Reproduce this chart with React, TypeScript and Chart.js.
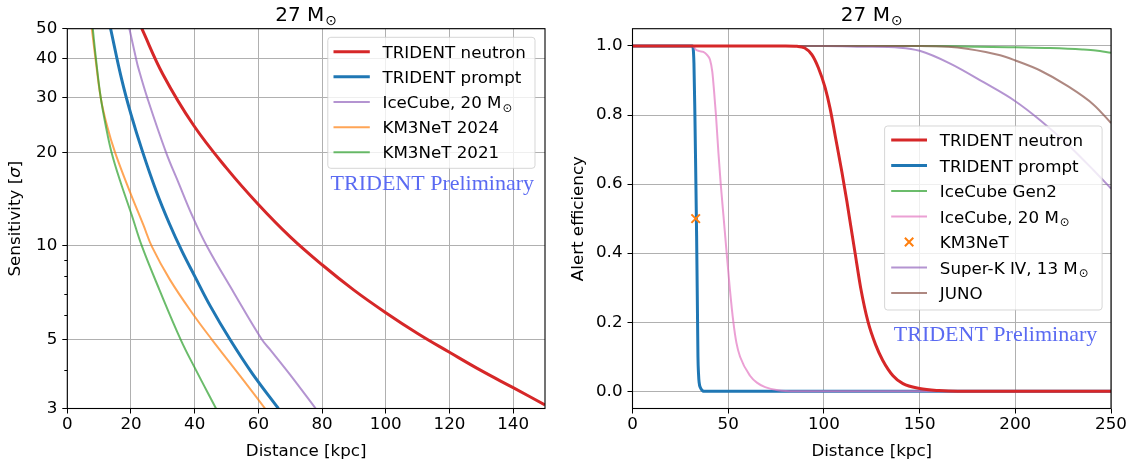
import React, { useEffect, useRef } from 'react';
import { Chart, registerables } from 'chart.js';

Chart.register(...registerables);

const FONT = 'DejaVu Sans';
const FS = 16.7;
const TITLE_FS = 20;

// ---------------- Left panel: sensitivity vs distance ----------------
const panelTitle = '27 M⊙';
const sensXTicks = [0, 20, 40, 60, 80, 100, 120, 140];
const sensYTicks = [3, 5, 10, 20, 30, 40, 50];
const sensMinorTicks = [4, 6, 7, 8, 9];

const neutronSensDist = [23.4, 30, 39.6, 50, 60, 70, 80, 90, 100, 110, 120, 130, 140, 150];
const neutronSensSigma = [50, 35.7, 24.5, 17.8, 13.6, 10.7, 8.7, 7.21, 6.1, 5.23, 4.55, 3.97, 3.5, 3.08];

const promptSensDist = [13.6, 17, 20, 23.7, 28, 32, 36, 40, 45, 51.1, 58, 66.3];
const promptSensSigma = [50, 34.6, 26.5, 20, 14.94, 11.83, 9.62, 8, 6.38, 5, 3.9, 3];

const icecubeSensDist = [19.5, 21.6, 22.3, 25.1, 31, 35, 39.1, 43.8, 52.2, 61.1, 64, 70, 78];
const icecubeSensSigma = [50, 40, 37.4, 30, 20, 15.9, 12.6, 10, 7.1, 5, 4.6, 3.85, 3];

const km24SensDist = [7.7, 8.86, 10.49, 12.5, 14.99, 19.7, 23.88, 26.61, 32.26, 40, 45.4, 54.26, 62.1];
const km24SensSigma = [50, 40, 30, 24.3, 20, 14.9, 11.69, 9.93, 7.78, 5.93, 5, 3.82, 3];

const km21SensDist = [8, 9, 10.5, 12.2, 13.9, 16.5, 20.2, 23.4, 29, 35.6, 40, 46.7];
const km21SensSigma = [50, 40, 30, 24, 20, 16.3, 12.6, 10, 7.2, 5, 4.06, 3];

// ---------------- Right panel: alert efficiency vs distance ----------------
const effXTicks = [0, 50, 100, 150, 200, 250];
const effYTicks = [0, 0.2, 0.4, 0.6, 0.8, 1.0];

const neutronEffDist = [0, 80, 86, 90, 93.7, 97.1, 100.6, 103.2, 105.9, 109.4, 112, 114, 116.3, 119.2, 123.1, 127, 130.7, 136.1, 141.3, 150, 160, 170, 250];
const neutronEff = [1, 1, 0.999, 0.994, 0.975, 0.937, 0.88, 0.82, 0.74, 0.635, 0.55, 0.48, 0.4, 0.3, 0.2, 0.135, 0.09, 0.045, 0.022, 0.008, 0.002, 0, 0];

const promptEffDist = [0, 31.3, 32.1, 32.6, 33.0, 33.5, 33.8, 34.0, 34.2, 34.5, 34.8, 35.5, 36.5, 37, 250];
const promptEff = [1, 1, 0.95, 0.8, 0.65, 0.45, 0.3, 0.2, 0.1, 0.05, 0.026, 0.01, 0.002, 0, 0];

const gen2EffDist = [0, 150, 180, 200, 218, 235, 242, 250];
const gen2Eff = [1, 1, 0.998, 0.996, 0.994, 0.99, 0.987, 0.98];

const icecubeEffDist = [0, 31.5, 33, 35, 37, 38.8, 40.5, 41.7, 42.6, 43.6, 44.9, 46.1, 47.5, 49.2, 50.8, 52.7, 54.3, 56.2, 61.4, 65, 69.3, 76, 85, 250];
const icecubeEff = [1, 1, 0.99, 0.985, 0.983, 0.975, 0.96, 0.925, 0.87, 0.8, 0.69, 0.6, 0.51, 0.4, 0.3, 0.2, 0.14, 0.1, 0.045, 0.025, 0.012, 0.003, 0, 0];

const km3netEffDist = [33];
const km3netEff = [0.5];

const superKEffDist = [0, 100, 120, 139.8, 150, 166, 183.4, 200, 213, 227, 240.9, 250];
const superKEff = [1, 1, 0.998, 0.995, 0.986, 0.949, 0.895, 0.84, 0.785, 0.717, 0.64, 0.587];

const junoEffDist = [0, 150, 165, 174.7, 192.1, 200, 213, 227, 240.9, 250];
const junoEff = [1, 1, 0.998, 0.992, 0.973, 0.958, 0.929, 0.885, 0.83, 0.777];

// ---------------- styles ----------------
const RED = '#d62728';
const BLUE = '#1f77b4';
const PURPLE = 'rgba(148,103,189,0.7)';
const ORANGE_A = 'rgba(255,127,14,0.7)';
const GREEN_A = 'rgba(44,160,44,0.7)';
const PINK_A = 'rgba(227,119,194,0.7)';
const BROWN_A = 'rgba(140,86,75,0.7)';
const ORANGE = '#ff7f0e';
const WATERMARK = '#5a6af2';

function pts(xs: number[], ys: number[]) {
  return xs.map((x, i) => ({ x, y: ys[i] }));
}

function lineDs(label: string, xs: number[], ys: number[], color: string, width: number, order: number, smooth: 'bezier' | 'monotone') {
  return {
    label,
    data: pts(xs, ys),
    borderColor: color,
    backgroundColor: color,
    borderWidth: width,
    pointRadius: 0,
    fill: false,
    tension: smooth === 'bezier' ? 0.4 : 0,
    cubicInterpolationMode: smooth === 'monotone' ? 'monotone' : 'default',
    borderJoinStyle: 'round',
    borderCapStyle: 'butt',
    clip: 0,
    order,
  };
}

function drawRich(ctx: CanvasRenderingContext2D, text: string, x: number, y: number, size: number, align: 'left' | 'center') {
  const idx = text.indexOf('⊙');
  const main = idx >= 0 ? text.slice(0, idx) : text;
  const hasSun = idx >= 0;
  const subSize = size * 0.7;
  ctx.font = `${size}px "${FONT}"`;
  const mw = ctx.measureText(main).width;
  let sw = 0;
  if (hasSun) {
    ctx.font = `${subSize}px "${FONT}"`;
    sw = ctx.measureText('⊙').width + 1;
  }
  const x0 = align === 'center' ? x - (mw + sw) / 2 : x;
  ctx.textAlign = 'left';
  ctx.textBaseline = 'alphabetic';
  ctx.fillStyle = '#000';
  ctx.font = `${size}px "${FONT}"`;
  ctx.fillText(main, x0, y);
  if (hasSun) {
    ctx.font = `${subSize}px "${FONT}"`;
    ctx.fillText('⊙', x0 + mw + 1, y + size * 0.22);
  }
}

type LegendItem = { label: string; color: string; width: number; marker?: boolean };
type PanelOpts = {
  minorTicks?: number[];
  yLabelSigma?: { x: number };
  legend: { x: number; y: number; w: number; h: number; row0: number; step: number; sx: number; slen: number; tx: number; items: LegendItem[] };
  mark: { x: number; y: number };
};

function panelPlugin(o: PanelOpts) {
  return {
    id: 'panelDecor',
    afterDatasetsDraw(chart: any) {
      const ctx: CanvasRenderingContext2D = chart.ctx;
      const a = chart.chartArea;
      ctx.save();
      if (o.minorTicks) {
        const ys = chart.scales.y;
        ctx.strokeStyle = '#000';
        ctx.lineWidth = 1;
        for (const v of o.minorTicks) {
          const p = Math.round(ys.getPixelForValue(v)) + 0.5;
          ctx.beginPath();
          ctx.moveTo(a.left - 3, p);
          ctx.lineTo(a.left, p);
          ctx.stroke();
        }
      }
      if (o.yLabelSigma) {
        const parts: [string, string][] = [['Sensitivity [', 'normal'], ['σ', 'italic'], [']', 'normal']];
        const widths = parts.map(([t, st]) => {
          ctx.font = `${st} ${FS}px "${FONT}"`;
          return ctx.measureText(t).width;
        });
        const total = widths.reduce((s, w) => s + w, 0);
        ctx.save();
        ctx.translate(o.yLabelSigma.x, (a.top + a.bottom) / 2);
        ctx.rotate(-Math.PI / 2);
        ctx.textAlign = 'left';
        ctx.textBaseline = 'middle';
        ctx.fillStyle = '#000';
        let cx = -total / 2;
        parts.forEach(([t, st], i) => {
          ctx.font = `${st} ${FS}px "${FONT}"`;
          ctx.fillText(t, cx, 0);
          cx += widths[i];
        });
        ctx.restore();
      }
      ctx.strokeStyle = '#000';
      ctx.lineWidth = 1.1;
      ctx.strokeRect(a.left, a.top, a.right - a.left, a.bottom - a.top);
      drawRich(ctx, panelTitle, (a.left + a.right) / 2, 20.5, TITLE_FS, 'center');
      ctx.font = `22px "Liberation Serif"`;
      ctx.fillStyle = WATERMARK;
      ctx.textAlign = 'center';
      ctx.textBaseline = 'alphabetic';
      ctx.fillText('TRIDENT Preliminary', o.mark.x, o.mark.y);
      const L = o.legend;
      ctx.beginPath();
      if ((ctx as any).roundRect) (ctx as any).roundRect(L.x, L.y, L.w, L.h, 3);
      else ctx.rect(L.x, L.y, L.w, L.h);
      ctx.fillStyle = 'rgba(255,255,255,0.8)';
      ctx.fill();
      ctx.strokeStyle = 'rgba(204,204,204,0.8)';
      ctx.lineWidth = 1;
      ctx.stroke();
      L.items.forEach((it, i) => {
        const y = L.row0 + i * L.step;
        if (it.marker) {
          const cx = L.sx + L.slen / 2;
          const r = 4.2;
          ctx.strokeStyle = it.color;
          ctx.lineWidth = 2;
          ctx.beginPath();
          ctx.moveTo(cx - r, y - r);
          ctx.lineTo(cx + r, y + r);
          ctx.moveTo(cx - r, y + r);
          ctx.lineTo(cx + r, y - r);
          ctx.stroke();
        } else {
          ctx.strokeStyle = it.color;
          ctx.lineWidth = it.width;
          ctx.lineCap = 'butt';
          ctx.beginPath();
          ctx.moveTo(L.sx, y);
          ctx.lineTo(L.sx + L.slen, y);
          ctx.stroke();
        }
        drawRich(ctx, it.label, L.tx, y + 6, FS, 'left');
      });
      ctx.restore();
    },
  };
}

function axisCommon(ticksArr: number[], fmt: (v: number) => string, pad: number) {
  return {
    afterBuildTicks: (s: any) => {
      s.ticks = ticksArr.map((v) => ({ value: v }));
    },
    grid: { color: '#b0b0b0', lineWidth: 1, tickColor: '#000', tickLength: 5, tickWidth: 1 },
    border: { display: false },
    ticks: {
      color: '#000',
      font: { family: FONT, size: FS },
      maxRotation: 0,
      autoSkip: false,
      padding: pad,
      callback: (v: any) => fmt(Number(v)),
    },
  };
}

function axisTitle(text: string, pad: { top: number; bottom: number }) {
  return { display: true, text, color: '#000', font: { family: FONT, size: FS }, padding: pad };
}

const baseOptions = (rightPad: number) => ({
  responsive: false,
  animation: false,
  events: [],
  layout: { padding: { left: 0, right: rightPad, top: 28.7, bottom: 0 } },
  plugins: { legend: { display: false }, tooltip: { enabled: false }, title: { display: false } },
});

function leftConfig(): any {
  const items: LegendItem[] = [
    { label: 'TRIDENT neutron', color: RED, width: 3 },
    { label: 'TRIDENT prompt', color: BLUE, width: 3 },
    { label: 'IceCube, 20 M⊙', color: PURPLE, width: 2 },
    { label: 'KM3NeT 2024', color: ORANGE_A, width: 2 },
    { label: 'KM3NeT 2021', color: GREEN_A, width: 2 },
  ];
  return {
    type: 'line',
    data: {
      datasets: [
        lineDs('TRIDENT neutron', neutronSensDist, neutronSensSigma, RED, 3, 5, 'bezier'),
        lineDs('TRIDENT prompt', promptSensDist, promptSensSigma, BLUE, 3, 4, 'bezier'),
        lineDs('IceCube, 20 M⊙', icecubeSensDist, icecubeSensSigma, PURPLE, 2, 3, 'bezier'),
        lineDs('KM3NeT 2024', km24SensDist, km24SensSigma, ORANGE_A, 2, 2, 'bezier'),
        lineDs('KM3NeT 2021', km21SensDist, km21SensSigma, GREEN_A, 2, 1, 'bezier'),
      ],
    },
    options: {
      ...baseOptions(15),
      scales: {
        x: {
          type: 'linear',
          min: 0,
          max: 150,
          ...axisCommon(sensXTicks, (v) => String(v), 1.5),
          afterFit: (s: any) => { s.height = 61.5; },
          title: axisTitle('Distance [kpc]', { top: 0, bottom: 8 }),
        },
        y: {
          type: 'logarithmic',
          min: 3,
          max: 50,
          ...axisCommon(sensYTicks, (v) => String(v), 5),
          afterFit: (s: any) => { s.width = 67.3; },
          title: { display: false },
        },
      },
    },
    plugins: [
      panelPlugin({
        minorTicks: sensMinorTicks,
        yLabelSigma: { x: 16 },
        legend: { x: 327.8, y: 37.3, w: 207.2, h: 131, row0: 51.7, step: 25.15, sx: 333.5, slen: 36.3, tx: 382.5, items },
        mark: { x: 432.3, y: 190.2 },
      }),
    ],
  };
}

function rightConfig(): any {
  const items: LegendItem[] = [
    { label: 'TRIDENT neutron', color: RED, width: 3 },
    { label: 'TRIDENT prompt', color: BLUE, width: 3 },
    { label: 'IceCube Gen2', color: GREEN_A, width: 2 },
    { label: 'IceCube, 20 M⊙', color: PINK_A, width: 2 },
    { label: 'KM3NeT', color: ORANGE, width: 2, marker: true },
    { label: 'Super-K IV, 13 M⊙', color: PURPLE, width: 2 },
    { label: 'JUNO', color: BROWN_A, width: 2 },
  ];
  return {
    type: 'line',
    data: {
      datasets: [
        lineDs('TRIDENT neutron', neutronEffDist, neutronEff, RED, 3, 2, 'monotone'),
        lineDs('TRIDENT prompt', promptEffDist, promptEff, BLUE, 3, 8, 'monotone'),
        lineDs('IceCube Gen2', gen2EffDist, gen2Eff, GREEN_A, 2, 7, 'monotone'),
        lineDs('IceCube, 20 M⊙', icecubeEffDist, icecubeEff, PINK_A, 2, 6, 'monotone'),
        {
          label: 'KM3NeT',
          data: pts(km3netEffDist, km3netEff),
          showLine: false,
          pointStyle: 'crossRot',
          pointRadius: 6,
          pointBorderWidth: 2,
          pointBorderColor: ORANGE,
          pointBackgroundColor: ORANGE,
          borderColor: ORANGE,
          clip: 0,
          order: 1,
        },
        lineDs('Super-K IV, 13 M⊙', superKEffDist, superKEff, PURPLE, 2, 5, 'monotone'),
        lineDs('JUNO', junoEffDist, junoEff, BROWN_A, 2, 4, 'monotone'),
      ],
    },
    options: {
      ...baseOptions(27),
      scales: {
        x: {
          type: 'linear',
          min: 0,
          max: 250,
          ...axisCommon(effXTicks, (v) => String(v), 1.5),
          afterFit: (s: any) => { s.height = 61.5; },
          title: axisTitle('Distance [kpc]', { top: 0, bottom: 8 }),
        },
        y: {
          type: 'linear',
          min: -0.05,
          max: 1.05,
          ...axisCommon(effYTicks, (v) => v.toFixed(1), 5),
          afterFit: (s: any) => { s.width = 72.5; },
          title: axisTitle('Alert efficiency', { top: 9, bottom: 0 }),
        },
      },
    },
    plugins: [
      panelPlugin({
        legend: { x: 324.6, y: 126, w: 217.5, h: 184, row0: 140, step: 25.5, sx: 331.2, slen: 35.8, tx: 379.8, items },
        mark: { x: 435.5, y: 341.2 },
      }),
    ],
  };
}

function ChartCanvas({ makeConfig, left, width }: { makeConfig: () => any; left: number; width: number }) {
  const ref = useRef<HTMLCanvasElement>(null);
  useEffect(() => {
    const chart = new Chart(ref.current as HTMLCanvasElement, makeConfig());
    return () => chart.destroy();
  }, []);
  return (
    <canvas
      ref={ref}
      width={width}
      height={470}
      style={{ position: 'absolute', left, top: 0, width, height: 470 }}
    />
  );
}

export default function App() {
  return (
    <div style={{ position: 'absolute', left: 0, top: 0, width: 1138, height: 470, background: '#fff' }}>
      <ChartCanvas makeConfig={leftConfig} left={0} width={560} />
      <ChartCanvas makeConfig={rightConfig} left={560} width={578} />
    </div>
  );
}
